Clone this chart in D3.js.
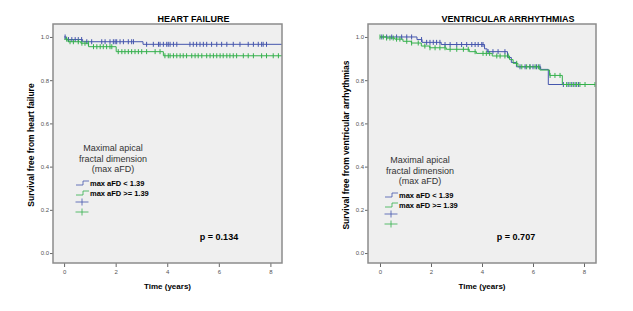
<!DOCTYPE html>
<html>
<head>
<meta charset="utf-8">
<script src="https://cdn.jsdelivr.net/npm/d3@7"></script>
<style>
  body { margin: 0; background: #fff; }
  svg { display: block; font-family: "Liberation Sans", Arial, sans-serif; }
</style>
</head>
<body>
<div id="chart"></div>
<script>
// text
const titles = ["HEART FAILURE", "VENTRICULAR ARRHYTHMIAS"];
const yTitles = ["Survival free from heart failure", "Survival free from ventricular arrhythmias"];
const pValues = ["p = 0.134", "p = 0.707"];
const groups = ["max aFD < 1.39", "max aFD >= 1.39"];
const legendTitle = ["Maximal apical", "fractal dimension", "(max aFD)"];
const xTicks = [0, 2, 4, 6, 8];
const yTicks = [0, 0.2, 0.4, 0.6, 0.8, 1.0];

// heart failure - step times (years) and survival, last point = end of follow-up
const hfLowT = [0, 0.08, 0.72, 3.06, 8.45];
const hfLowS = [1.0, 0.988, 0.978, 0.966, 0.966];
const hfHighT = [0, 0.15, 0.65, 0.95, 2.02, 3.85, 8.45];
const hfHighS = [0.99, 0.978, 0.971, 0.955, 0.932, 0.913, 0.913];
// censored times
const hfLowCens = [0.04, 0.17, 0.30, 0.43, 0.55, 0.68, 0.88, 1.07, 1.46, 1.59, 1.78, 1.91, 1.98, 2.04,
  2.17, 2.30, 2.49, 2.62, 2.69, 3.2, 3.46, 3.66, 3.72, 3.85, 3.98, 4.04, 4.11, 4.24, 4.37, 4.88, 5.01,
  5.14, 5.27, 5.40, 5.53, 5.72, 5.92, 6.11, 6.31, 6.56, 6.82, 7.14, 7.34, 7.53, 7.66, 7.72, 7.85];
const hfHighCens = [0.10, 0.23, 0.36, 0.55, 0.69, 0.81, 0.94, 1.14, 1.27, 1.40, 1.52, 1.65, 1.78, 1.85,
  2.10, 2.24, 2.36, 2.49, 2.62, 2.75, 2.88, 3.01, 3.20, 3.53, 3.72, 3.91, 4.04, 4.11, 4.24, 4.37, 4.50,
  4.62, 4.75, 4.95, 5.08, 5.20, 5.34, 5.53, 5.66, 5.79, 5.92, 6.05, 6.17, 6.31, 6.43, 6.56, 6.69, 6.95,
  7.14, 7.34, 7.66, 7.85, 8.11, 8.31];

// ventricular arrhythmias
const vaLowT = [0, 1.45, 1.65, 2.4, 4.1, 4.2, 5.0, 5.15, 5.35, 6.3, 6.6, 7.85];
const vaLowS = [1.0, 0.988, 0.975, 0.965, 0.945, 0.932, 0.905, 0.882, 0.862, 0.85, 0.78, 0.78];
const vaHighT = [0, 0.25, 0.58, 0.9, 1.23, 1.62, 1.95, 2.6, 3.5, 3.78, 4.4, 5.08, 5.22, 5.41, 6.27, 6.65, 7.15, 8.45];
const vaHighS = [1.0, 0.995, 0.99, 0.98, 0.972, 0.958, 0.95, 0.943, 0.932, 0.924, 0.912, 0.895, 0.878,
  0.862, 0.847, 0.822, 0.78, 0.78];
const vaLowCens = [0.07, 0.26, 0.46, 0.65, 0.85, 1.05, 1.24, 1.63, 1.83, 1.96, 2.09, 2.22, 2.35, 2.55,
  2.75, 3.01, 3.2, 3.4, 3.6, 3.73, 3.85, 3.99, 4.04, 4.24, 4.43, 4.63, 4.9, 5.49, 5.69, 5.88, 6.0, 6.14,
  6.27, 7.19, 7.38, 7.52, 7.65, 7.78];
const vaHighCens = [0.0, 0.13, 0.26, 0.39, 0.52, 0.65, 0.78, 1.05, 1.24, 1.5, 1.76, 1.96, 2.16, 2.35,
  2.55, 2.75, 3.01, 3.27, 3.46, 3.73, 4.04, 4.17, 4.3, 4.58, 4.71, 4.9, 5.03, 5.36, 5.56, 5.75, 5.88,
  6.08, 6.21, 6.67, 6.86, 7.06, 7.32, 7.45, 7.58, 7.71, 7.84, 8.04, 8.43];

const colors = ["#4556ad", "#34b04c"];

const W = 633, H = 311;
const svg = d3.select("#chart").append("svg")
  .attr("width", W).attr("height", H);

// panel layout
const panels = [
  { x0: 53, x1: 282, dom: [-0.43, 8.45], legX: 113, itemX: 90, legY: 148, pX: 219,
    series: [[hfLowT, hfLowS, hfLowCens], [hfHighT, hfHighS, hfHighCens]] },
  { x0: 368, x1: 596, dom: [-0.47, 8.47], legX: 420, itemX: 399, legY: 160, pX: 516,
    series: [[vaLowT, vaLowS, vaLowCens], [vaHighT, vaHighS, vaHighCens]] }
];
const plotTop = 24, plotBottom = 263;

panels.forEach((p, pi) => {
  const g = svg.append("g");
  const x = d3.scaleLinear().domain(p.dom).range([p.x0, p.x1]);
  const y = d3.scaleLinear().domain([-0.046, 1.06]).range([plotBottom, plotTop]);

  g.append("rect")
    .attr("x", p.x0).attr("y", plotTop)
    .attr("width", p.x1 - p.x0).attr("height", plotBottom - plotTop)
    .attr("fill", "#efefef");

  g.append("clipPath").attr("id", "clip" + pi)
    .append("rect")
    .attr("x", p.x0).attr("y", plotTop)
    .attr("width", p.x1 - p.x0).attr("height", plotBottom - plotTop);

  // axes
  const yAxis = g.append("g")
    .attr("transform", `translate(${p.x0},0)`)
    .call(d3.axisLeft(y).tickValues(yTicks).tickFormat(d3.format(".1f")).tickSize(3).tickPadding(1));
  const xAxis = g.append("g")
    .attr("transform", `translate(0,${plotBottom})`)
    .call(d3.axisBottom(x).tickValues(xTicks).tickSize(4).tickPadding(3));
  [yAxis, xAxis].forEach(a => {
    a.select(".domain").remove();
    a.selectAll(".tick line").attr("stroke", "#666");
    a.selectAll(".tick text").attr("fill", "#555").style("font-size", "6px")
      .style("font-family", "'Liberation Sans', Arial, sans-serif");
  });

  // curves
  const line = d3.line().x(d => x(d[0])).y(d => y(d[1])).curve(d3.curveStepAfter);
  const curves = g.append("g").attr("clip-path", `url(#clip${pi})`);
  p.series.forEach(([T, S, C], si) => {
    curves.append("path")
      .datum(T.map((t, i) => [t, S[i]]))
      .attr("fill", "none")
      .attr("stroke", colors[si])
      .attr("stroke-width", 1)
      .attr("d", line);
    const survAt = t => S[d3.bisectRight(T, t) - 1];
    curves.selectAll(null)
      .data(C)
      .enter().append("line")
      .attr("x1", d => x(d)).attr("x2", d => x(d))
      .attr("y1", d => y(survAt(d)) - 2.5)
      .attr("y2", d => y(survAt(d)) + 2.5)
      .attr("stroke", colors[si])
      .attr("stroke-width", 1);
  });

  // frame
  g.append("rect")
    .attr("x", p.x0).attr("y", plotTop)
    .attr("width", p.x1 - p.x0).attr("height", plotBottom - plotTop)
    .attr("fill", "none").attr("stroke", "#8c8c8c").attr("stroke-width", 1.5);

  // titles
  g.append("text")
    .attr("x", (p.x0 + p.x1) / 2 + 26).attr("y", 21.5)
    .attr("text-anchor", "middle")
    .style("font-size", "9px").style("font-weight", "bold")
    .text(titles[pi]);
  g.append("text")
    .attr("transform", `translate(${p.x0 - 19},145) rotate(-90)`)
    .attr("text-anchor", "middle")
    .style("font-size", "8.5px").style("font-weight", "bold")
    .text(yTitles[pi]);
  g.append("text")
    .attr("x", (p.x0 + p.x1) / 2).attr("y", 289)
    .attr("text-anchor", "middle")
    .style("font-size", "8px").style("font-weight", "bold")
    .text("Time (years)");
  g.append("text")
    .attr("x", p.pX).attr("y", 240)
    .attr("text-anchor", "middle")
    .style("font-size", "9px").style("font-weight", "bold")
    .text(pValues[pi]);

  // legend
  legendTitle.forEach((t, i) => {
    g.append("text")
      .attr("x", p.legX).attr("y", p.legY + 3 + i * 10.5)
      .attr("text-anchor", "middle")
      .attr("fill", "#333")
      .style("font-size", "9px")
      .text(t);
  });
  groups.forEach((name, i) => {
    const ly = p.legY + 35 + i * 10;
    const sx = p.itemX - 14;
    g.append("path")
      .attr("d", `M${sx},${ly + 2}H${sx + 7}V${ly - 2}H${sx + 13}`)
      .attr("fill", "none").attr("stroke", colors[i]).attr("stroke-width", 0.8);
    g.append("text")
      .attr("x", p.itemX).attr("y", ly + 2.5)
      .style("font-size", "7.5px").style("font-weight", "bold")
      .text(name);
    const cy = p.legY + 54 + i * 10;
    const cx = p.itemX - 8;
    g.append("path")
      .attr("d", `M${cx - 6.5},${cy}H${cx + 6.5}M${cx},${cy - 3.5}V${cy + 3.5}`)
      .attr("fill", "none").attr("stroke", colors[i]).attr("stroke-width", 0.8);
  });
});
</script>
</body>
</html>
